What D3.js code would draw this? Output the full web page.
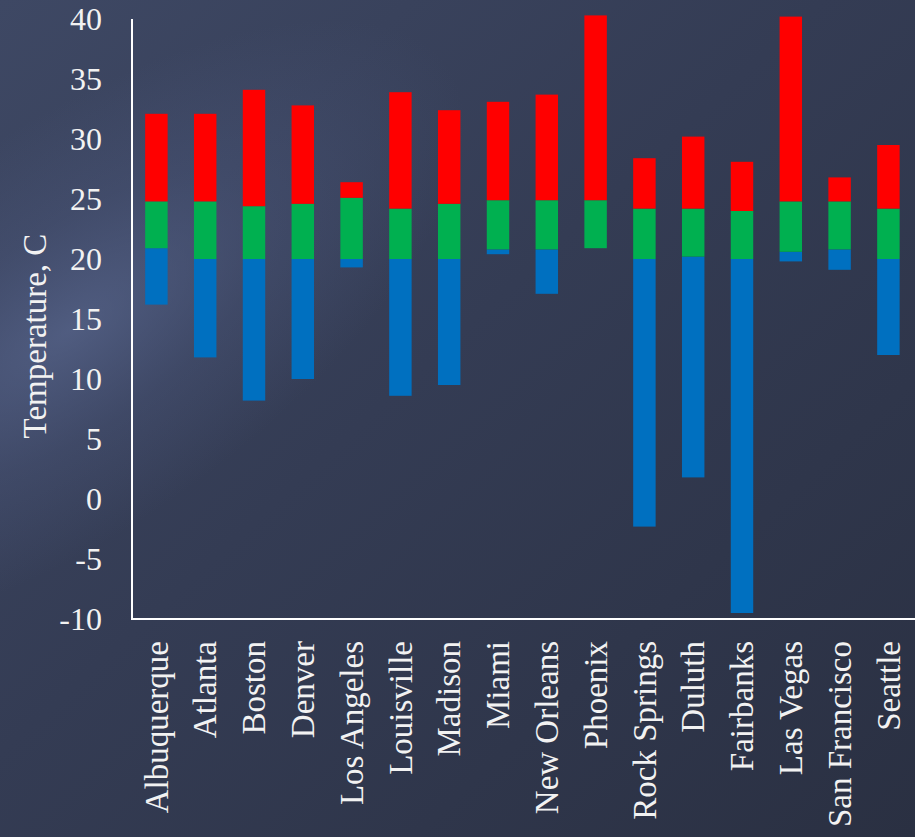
<!DOCTYPE html>
<html>
<head>
<meta charset="utf-8">
<script src="https://cdn.jsdelivr.net/npm/d3@7/dist/d3.min.js"></script>
<style>
  html, body { margin: 0; padding: 0; background: #2f3649; }
  svg { display: block; }
  text { font-family: "Liberation Serif", "DejaVu Serif", serif; fill: #f2f2f2; }
</style>
</head>
<body>
<svg id="chart" width="915" height="837"></svg>
<script>
// City temperature ranges (°C): cold band, comfort band, hot band
const cities = ["Albuquerque", "Atlanta", "Boston", "Denver", "Los Angeles", "Louisville",
  "Madison", "Miami", "New Orleans", "Phoenix", "Rock Springs", "Duluth",
  "Fairbanks", "Las Vegas", "San Francisco", "Seattle"];
const lows        = [16.2, 11.8, 8.2, 10.0, 19.3, 8.6, 9.5, 20.4, 17.1, 20.9, -2.3, 1.8, -9.5, 19.8, 19.1, 12.0];
const comfortLow  = [20.9, 20.0, 20.0, 20.0, 20.0, 20.0, 20.0, 20.8, 20.8, 20.9, 20.0, 20.2, 20.0, 20.6, 20.8, 20.0];
const comfortHigh = [24.8, 24.8, 24.4, 24.6, 25.1, 24.2, 24.6, 24.9, 24.9, 24.9, 24.2, 24.2, 24.0, 24.8, 24.8, 24.2];
const highs       = [32.1, 32.1, 34.1, 32.8, 26.4, 33.9, 32.4, 33.1, 33.7, 40.3, 28.4, 30.2, 28.1, 40.2, 26.8, 29.5];
const yTicks = [-10, -5, 0, 5, 10, 15, 20, 25, 30, 35, 40];
const yTitle = "Temperature, C";

const colors = { cold: "#0070c0", comfort: "#00b050", hot: "#ff0000" };
const FONT = "Liberation Serif";

const W = 915, H = 837;
const svg = d3.select("#chart");
const defs = svg.append("defs");

// Background: dark slate with a soft light sweep on the left
const base = defs.append("linearGradient").attr("id", "bg")
  .attr("x1", 0).attr("y1", 0).attr("x2", 1).attr("y2", 1);
base.append("stop").attr("offset", 0).attr("stop-color", "#3e4864");
base.append("stop").attr("offset", 0.45).attr("stop-color", "#343c54");
base.append("stop").attr("offset", 1).attr("stop-color", "#2a3042");

const glow = defs.append("radialGradient").attr("id", "glow")
  .attr("gradientUnits", "userSpaceOnUse")
  .attr("cx", 70).attr("cy", 330).attr("r", 330)
  .attr("gradientTransform", "rotate(-35 70 330) scale(1.4 0.6) translate(-20 220)");
glow.append("stop").attr("offset", 0).attr("stop-color", "#5a6890").attr("stop-opacity", 0.7);
glow.append("stop").attr("offset", 0.5).attr("stop-color", "#54618a").attr("stop-opacity", 0.28);
glow.append("stop").attr("offset", 1).attr("stop-color", "#54618a").attr("stop-opacity", 0);

svg.append("rect").attr("width", W).attr("height", H).attr("fill", "url(#bg)");
svg.append("rect").attr("width", W).attr("height", H).attr("fill", "url(#glow)");

// Scales
const x = d3.scaleBand().domain(cities).range([132, 912.8])
  .paddingInner(0.54).paddingOuter(0.27);
const y = d3.scaleLinear().domain([-10, 40]).range([619, 19]);

// Segments built from the arrays
const segs = [];
cities.forEach((c, i) => {
  if (lows[i] < 0) {
    segs.push({ c, from: lows[i], to: 0, color: colors.cold });
    segs.push({ c, from: 0, to: comfortLow[i], color: colors.cold });
  } else if (comfortLow[i] > lows[i]) {
    segs.push({ c, from: lows[i], to: comfortLow[i], color: colors.cold });
  }
  segs.push({ c, from: comfortLow[i], to: comfortHigh[i], color: colors.comfort });
  segs.push({ c, from: comfortHigh[i], to: highs[i], color: colors.hot });
});

svg.append("g").selectAll("rect").data(segs).join("rect")
  .attr("x", d => x(d.c))
  .attr("width", x.bandwidth())
  .attr("y", d => y(Math.max(d.from, d.to)))
  .attr("height", d => Math.abs(y(d.from) - y(d.to)))
  .attr("fill", d => d.color);

// Y axis
const yAxis = svg.append("g").attr("transform", "translate(132,0)")
  .call(d3.axisLeft(y).tickValues(yTicks).tickSize(0).tickSizeOuter(0).tickPadding(30)
    .tickFormat(d => String(d)));
yAxis.select(".domain").remove();
yAxis.selectAll("text").style("font-family", FONT).attr("font-size", 32)
  .attr("fill", "#f2f2f2").attr("dy", "0.34em");

// X axis labels
const xAxis = svg.append("g").attr("transform", "translate(0,619)")
  .call(d3.axisBottom(x).tickSize(0).tickSizeOuter(0));
xAxis.select(".domain").remove();
xAxis.selectAll("text")
  .style("font-family", FONT).attr("font-size", 33).attr("fill", "#f2f2f2")
  .attr("text-anchor", "end")
  .attr("transform", "rotate(-90)")
  .attr("x", -22).attr("y", 0).attr("dy", "0.34em");

// Axis lines
svg.append("line").attr("x1", 132).attr("x2", 132).attr("y1", y(40)).attr("y2", 620)
  .attr("stroke", "#ffffff").attr("stroke-width", 2);
svg.append("line").attr("x1", 131).attr("x2", W).attr("y1", 619).attr("y2", 619)
  .attr("stroke", "#ffffff").attr("stroke-width", 2);

// Y title
svg.append("text")
  .attr("transform", `translate(35,${(y(40) + y(-10)) / 2 + 17}) rotate(-90)`)
  .attr("text-anchor", "middle").attr("dy", "0.34em")
  .style("font-family", FONT).attr("font-size", 33)
  .text(yTitle);
</script>
</body>
</html>
